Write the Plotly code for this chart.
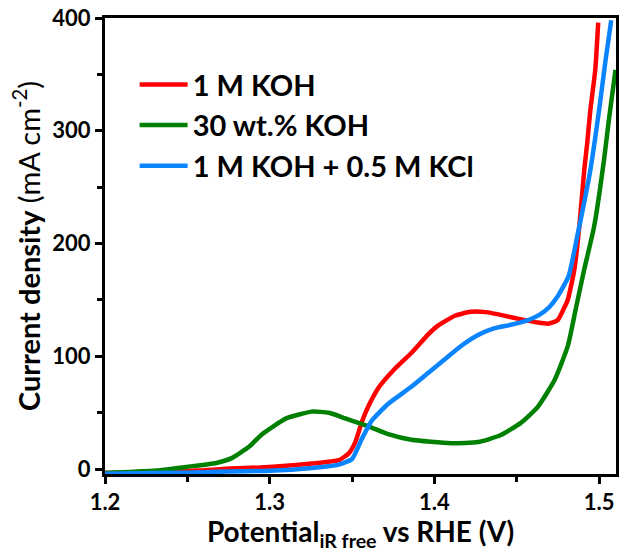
import plotly.graph_objects as go

# 1 M KOH
x_koh = [1.200, 1.230, 1.260, 1.2755, 1.294, 1.310, 1.3256, 1.342, 1.348, 1.352, 1.356, 1.360,
         1.366, 1.376, 1.386, 1.396, 1.402, 1.4125, 1.422, 1.4325, 1.4427, 1.452, 1.4627, 1.469,
         1.4748, 1.4785, 1.481, 1.485, 1.488, 1.491, 1.4928, 1.4947, 1.4977, 1.4995]
y_koh = [-3.5, -2.5, -1.0, 0.5, 1.5, 3.0, 5.0, 8.0, 14, 24, 42, 56,
         72, 89, 103, 119, 127, 136, 139.5, 139, 136, 133, 130, 129,
         132, 142, 150, 177, 215, 265, 289, 318, 354, 396]

# 30 wt.% KOH
x_30 = [1.200, 1.229, 1.2495, 1.2676, 1.2773, 1.2876, 1.2954, 1.310, 1.3256, 1.336, 1.346,
        1.360, 1.372, 1.386, 1.410, 1.4265, 1.440, 1.4525, 1.4627, 1.473, 1.481, 1.486,
        1.491, 1.497, 1.503, 1.506, 1.510]
y_30 = [-3.5, -1.5, 2.0, 5.5, 10, 20, 31, 45, 51, 50, 45,
        38, 31, 26, 23, 24, 30, 41, 55, 79, 109, 143,
        177, 215, 274, 310, 354]

# 1 M KOH + 0.5 M KCl
x_kcl = [1.200, 1.230, 1.260, 1.2755, 1.300, 1.3256, 1.342, 1.350, 1.356, 1.362, 1.372, 1.386,
         1.396, 1.406, 1.416, 1.4265, 1.4367, 1.4464, 1.4566, 1.464, 1.470, 1.4748, 1.4815,
         1.4867, 1.4947, 1.500, 1.504, 1.5074]
y_kcl = [-4.0, -3.5, -2.8, -2.0, -1.5, 1.0, 4.0, 9.0, 27, 43, 58, 73,
         85, 97, 109, 119, 125, 128, 132, 137, 144, 153, 171,
         206, 265, 318, 363, 398]

names = ["1 M KOH", "30 wt.% KOH", "1 M KOH + 0.5 M KCl"]
colors = ["#FF0000", "#008000", "#0A84FF"]

FONT = "Lato"

fig = go.Figure()
for i, (xs, ys, nm, c) in enumerate([(x_koh, y_koh, names[0], colors[0]),
                                     (x_30, y_30, names[1], colors[1]),
                                     (x_kcl, y_kcl, names[2], colors[2])]):
    fig.add_trace(go.Scatter(x=xs, y=ys, mode="lines", name="<b>" + nm + "</b>",
                             legendgroup="g%d" % i,
                             line=dict(color=c, width=4.5, shape="spline", smoothing=0.5)))

fig.update_layout(
    width=621, height=552,
    margin=dict(l=105, r=2, t=18, b=78),
    plot_bgcolor="white", paper_bgcolor="white",
    font=dict(family=FONT, color="black"),
    legend=dict(x=0.058, y=0.91, xanchor="left", yanchor="top",
                font=dict(size=29, family=FONT, color="black"),
                bgcolor="rgba(0,0,0,0)", tracegroupgap=0, itemwidth=48),
    showlegend=True,
)

fig.update_xaxes(
    range=[1.2, 1.5103], tickvals=[1.2, 1.3, 1.4, 1.5], ticktext=["1.2", "1.3", "1.4", "1.5"],
    ticks="outside", ticklen=7, tickwidth=3, tickcolor="black",
    minor=dict(dtick=0.05, tick0=1.2, ticks="outside", ticklen=5, tickwidth=3, tickcolor="black", showgrid=False),
    showline=True, linewidth=3, linecolor="black", mirror=True,
    showgrid=False, zeroline=False,
    tickfont=dict(size=22, family=FONT, color="black", weight="bold"),
    title=dict(text="<b>Potential<sub>iR free</sub> vs RHE (V)</b>",
               font=dict(size=28, family=FONT, color="black"), standoff=10),
)
fig.update_yaxes(
    range=[-4.3, 400], tickvals=[0, 100, 200, 300, 400],
    ticks="outside", ticklen=7, tickwidth=3, tickcolor="black",
    minor=dict(dtick=50, tick0=0, ticks="outside", ticklen=5, tickwidth=3, tickcolor="black", showgrid=False),
    showline=True, linewidth=3, linecolor="black", mirror=True,
    showgrid=False, zeroline=False,
    tickfont=dict(size=22, family=FONT, color="black", weight="bold"),
    title=dict(text="<b>Current density</b> (mA cm<sup>-2</sup>)",
               font=dict(size=29, family=FONT, color="black"), standoff=4),
)

fig.write_html("out.html")
